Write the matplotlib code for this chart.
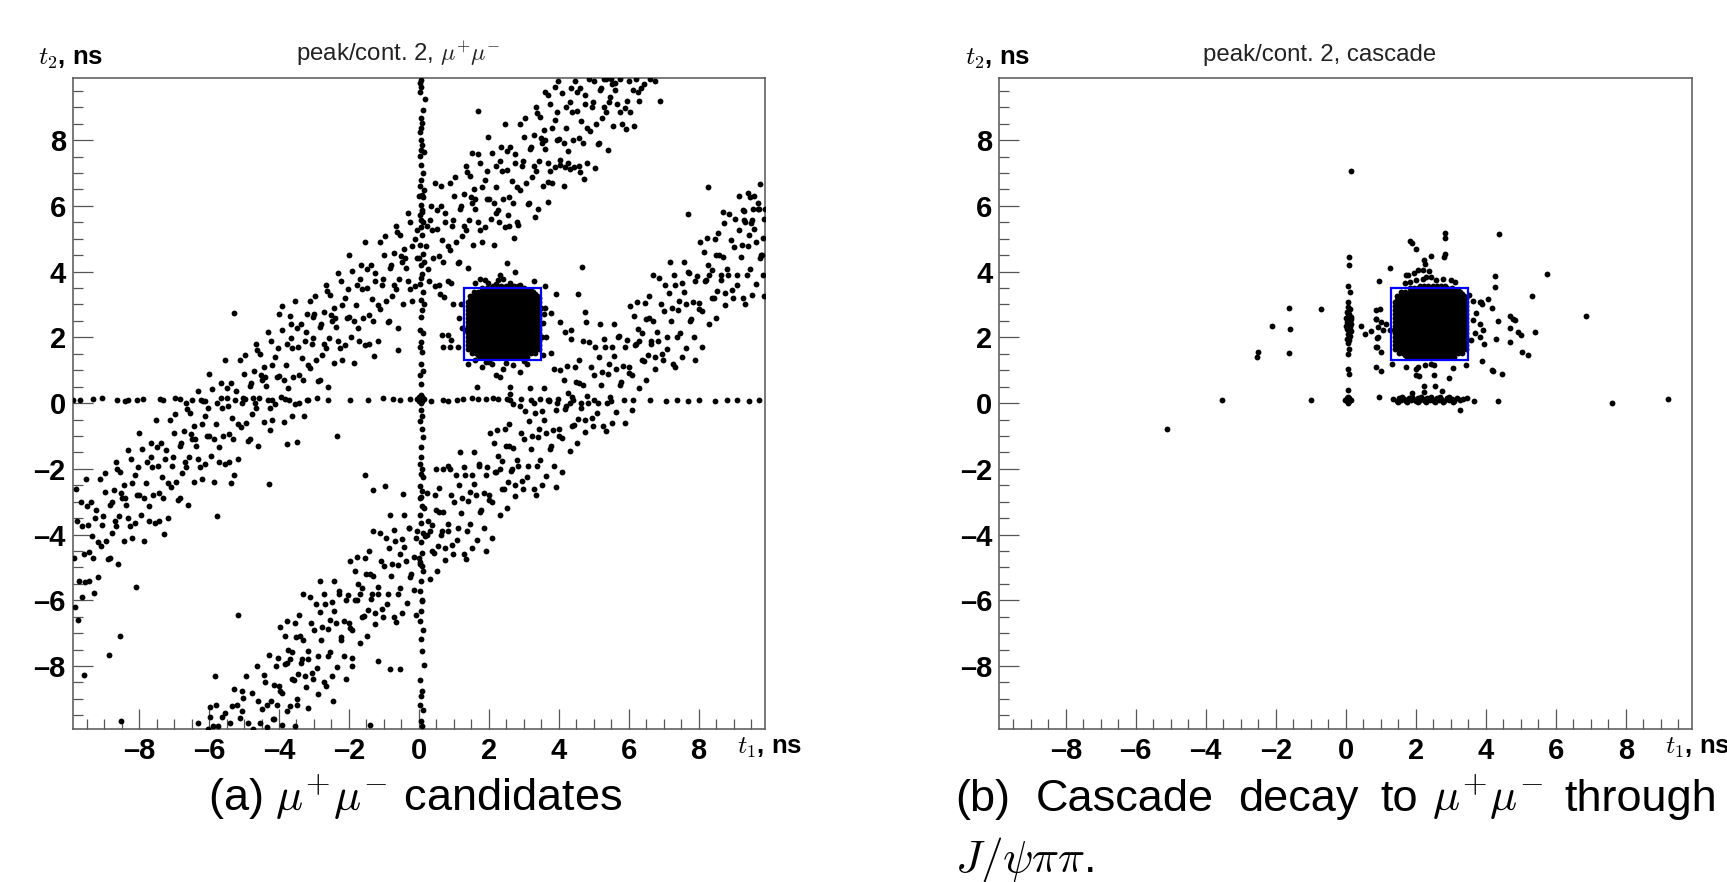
import matplotlib.pyplot as plt
from matplotlib.patches import Rectangle
from matplotlib.ticker import FixedLocator, MultipleLocator

plt.rcParams["font.family"] = ["Liberation Sans", "DejaVu Sans"]
plt.rcParams["mathtext.fontset"] = "cm"

# ---------------------------------------------------------------- data (ns)
major_ticks = [-8, -6, -4, -2, 0, 2, 4, 6, 8]
tick_labels = ["–8", "–6", "–4", "–2", "0", "2", "4", "6", "8"]
box = (1.3, 1.3, 3.5, 3.5)   # t1_min, t2_min, t1_max, t2_max

# saturated core of the peak (same look in both panels), rows of (t2, [t1 ...])
core_t1 = [1.40, 1.52, 1.64, 1.76, 1.88, 2.00, 2.12, 2.24, 2.36,
           2.48, 2.60, 2.72, 2.84, 2.96, 3.08, 3.20, 3.32, 3.44]
core_t1b = [1.46, 1.58, 1.70, 1.82, 1.94, 2.06, 2.18, 2.30, 2.42,
            2.54, 2.66, 2.78, 2.90, 3.02, 3.14, 3.26, 3.38]
core_rows = [
    (1.40, core_t1[3:15]), (1.52, core_t1[1:17]), (1.64, core_t1),
    (1.76, core_t1), (1.88, core_t1), (2.00, core_t1), (2.12, core_t1),
    (2.24, core_t1), (2.36, core_t1), (2.48, core_t1), (2.60, core_t1),
    (2.72, core_t1), (2.84, core_t1), (2.96, core_t1), (3.08, core_t1),
    (3.20, core_t1[1:]), (3.32, core_t1[2:17]), (3.44, core_t1[4:16]),
    (3.56, core_t1[6:13]),
    (1.46, core_t1b[2:14]), (1.58, core_t1b[1:16]), (1.70, core_t1b),
    (1.82, core_t1b), (1.94, core_t1b), (2.06, core_t1b), (2.18, core_t1b),
    (2.30, core_t1b), (2.42, core_t1b), (2.54, core_t1b), (2.66, core_t1b),
    (2.78, core_t1b), (2.90, core_t1b), (3.02, core_t1b), (3.14, core_t1b),
    (3.26, core_t1b), (3.38, core_t1b[1:16]), (3.50, core_t1b[3:14]),
]

# (a) mu+mu- candidates
vline_a = [
    (0.05, 9.84), (0.03, 9.74), (0.06, 9.63), (0.04, 9.48), (0.17, 9.25), (0.12, 8.92),
    (0.05, 8.67), (0.08, 8.52), (0.06, 8.37), (0.04, 8.26), (0.05, 8.01), (0.09, 7.86),
    (0.07, 7.71), (0.14, 7.63), (0.02, 7.51), (0.06, 7.25), (0.12, 7.00), (0.05, 6.79),
    (0.03, 6.59), (0.15, 6.49), (0.08, 6.33), (0.12, 6.28), (0.05, 6.03), (0.10, 5.88),
    (0.04, 5.73), (0.07, 5.57), (0.13, 5.52), (0.06, 5.37), (0.09, 5.10), (0.03, 4.82),
    (0.11, 4.55), (0.05, 4.20), (0.08, 3.92), (0.02, 3.62), (0.12, 3.38), (0.05, 3.13),
    (0.10, 2.82), (0.07, 2.62), (0.04, 2.22), (0.12, 2.12), (0.06, 1.86), (0.03, 1.71),
    (0.09, 1.55), (0.05, 1.20), (0.11, 0.99), (0.04, 0.84), (0.07, 0.59),
    (0.00, 0.05), (0.10, 0.05), (0.00, 0.18), (0.10, 0.18), (0.05, 0.12), (0.05, 0.00),
    (0.05, 0.24), (-0.05, 0.12), (0.15, 0.12),
    (0.06, -0.22), (0.10, -0.38), (0.04, -0.53), (0.08, -0.78), (0.12, -1.04), (0.05, -1.34),
    (0.07, -1.65), (0.03, -1.85), (0.10, -2.00), (0.06, -2.16), (0.13, -2.26), (0.04, -2.51),
    (0.08, -2.66), (0.05, -2.87), (0.10, -3.12), (0.03, -3.40), (0.07, -3.66), (0.12, -3.95),
    (0.05, -4.22), (0.09, -4.55), (0.02, -4.83), (0.11, -5.10), (0.06, -5.42), (0.04, -5.71),
    (0.10, -6.02), (0.07, -6.33), (0.03, -6.62), (0.12, -6.90), (0.05, -7.18), (0.08, -7.54),
    (0.14, -7.97), (0.04, -8.43), (0.10, -8.76), (0.07, -8.91), (0.03, -9.17), (0.13, -9.35),
    (0.05, -9.67), (0.08, -9.83),
]
hline_a = [
    (-9.88, 0.10), (-9.69, 0.08), (-9.31, 0.12), (-9.07, 0.15), (-8.64, 0.10), (-8.40, 0.07),
    (-8.31, 0.10), (-8.07, 0.09), (-7.88, 0.11), (-7.40, 0.13), (-7.31, 0.10), (-6.97, 0.14),
    (-6.83, 0.13), (-6.50, 0.09), (-6.16, 0.06), (-6.11, 0.07), (-5.50, 0.15), (-4.97, 0.12),
    (-4.73, 0.14), (-4.20, 0.10), (-3.83, 0.12), (-3.21, 0.09), (-2.92, 0.14), (-2.59, 0.08),
    (-1.97, 0.10), (-1.45, 0.08), (-1.02, 0.16), (-0.73, 0.13), (-0.54, 0.08), (-0.26, 0.13),
    (0.36, 0.05), (0.69, 0.08), (0.84, 0.05), (1.08, 0.09), (1.27, 0.12), (1.51, 0.17),
    (1.69, 0.12), (1.93, 0.12), (2.12, 0.17), (2.27, 0.12), (2.51, 0.12), (2.60, 0.28),
    (2.60, 0.10), (2.93, 0.12), (3.22, 0.09), (3.46, 0.12), (3.69, 0.09), (3.98, 0.12),
    (4.40, 0.08), (5.02, 0.10), (5.49, 0.06), (6.12, 0.10), (6.60, 0.08), (7.07, 0.05),
    (7.38, 0.10), (7.70, 0.07), (8.00, 0.09), (8.48, 0.05), (8.80, 0.10), (9.11, 0.08),
    (9.43, 0.06), (9.74, 0.09),
]
band_hi_a = [
    (-9.86, -4.7), (-9.78, -3.6), (-9.72, -5.4), (-9.65, -3.0), (-9.59, -4.6), (-9.53, -2.3),
    (-9.47, -3.7), (-9.42, -5.4), (-9.84, -6.2), (-9.75, -6.6), (-9.62, -5.9), (-9.80, -2.6),
    (-9.38, -3.0), (-9.31, -4.7), (-9.25, -3.5), (-9.18, -5.3), (-9.12, -2.3), (-9.06, -3.7),
    (-8.99, -2.7), (-8.94, -4.2), (-8.84, -4.7), (-8.79, -3.0), (-8.70, -3.6), (-8.66, -1.8),
    (-8.60, -4.9), (-8.54, -2.1), (-8.48, -2.9), (-8.43, -2.5), (-8.39, -2.9), (-8.32, -3.5),
    (-8.24, -1.7), (-8.19, -4.1), (-8.11, -2.2), (-8.05, -2.8), (-8.01, -0.9), (-7.95, -3.4),
    (-7.86, -2.9), (-7.78, -1.8), (-7.72, -3.6), (-7.65, -1.2), (-7.59, -2.8), (-7.53, -0.5),
    (-7.47, -1.9), (-7.42, -3.6), (-7.38, -1.2), (-7.31, -2.9), (-7.25, -1.7), (-7.18, -3.5),
    (-7.12, -0.5), (-7.06, -1.9), (-6.99, -0.9), (-6.94, -2.4), (-6.84, -2.9), (-6.79, -1.2),
    (-6.70, -1.8), (-6.66, 0.0), (-6.60, -3.1), (-6.54, -0.3), (-6.48, -1.1), (-6.43, -0.7),
    (-6.39, -1.1), (-6.32, -1.7), (-6.24, 0.1), (-6.19, -2.3), (-6.11, -0.4), (-6.05, -1.0),
    (-6.01, 0.9), (-5.95, -1.6), (-5.86, -1.1), (-5.78, 0.0), (-5.72, -1.8), (-5.65, 0.6),
    (-5.59, -1.0), (-5.53, 1.3), (-5.47, -0.1), (-5.42, -1.8), (-5.38, 0.6), (-5.31, -1.1),
    (-5.25, 0.1), (-5.18, -1.7), (-5.12, 1.3), (-5.06, 0.0), (-4.99, 0.9), (-4.94, -0.6),
    (-4.84, -1.1), (-4.79, 0.6), (-4.70, 0.0), (-4.66, 1.8), (-4.60, -1.3), (-4.54, 1.5),
    (-4.48, 0.7), (-4.43, 1.1), (-4.39, 0.8), (-4.32, 0.1), (-4.24, 1.9), (-4.19, -0.5),
    (-4.11, 1.4), (-4.05, 0.8), (-4.01, 2.7), (-3.95, 0.2), (-3.86, 0.7), (-3.78, 1.8),
    (-3.72, 0.1), (-3.65, 2.4), (-3.59, 0.8), (-3.53, 3.1), (-3.47, 1.7), (-3.42, 0.0),
    (-3.90, 2.95), (-3.69, 2.64), (-3.21, 2.72), (-3.02, 2.62),
    (-3.38, 2.4), (-3.31, 0.7), (-3.25, 1.9), (-3.18, 0.1), (-3.12, 3.1), (-3.06, 1.8),
    (-2.99, 2.7), (-2.94, 1.3), (-2.84, 0.7), (-2.79, 2.4), (-2.70, 1.8), (-2.66, 3.6),
    (-2.60, 0.5), (-2.54, 3.3), (-2.48, 2.5), (-2.43, 2.9), (-2.39, 2.6), (-2.32, 1.9),
    (-2.24, 3.7), (-2.19, 1.3), (-2.11, 3.2), (-2.05, 2.6), (-2.01, 4.5), (-1.95, 2.0),
    (-1.86, 2.5), (-1.78, 3.6), (-1.72, 1.9), (-1.65, 4.2), (-1.59, 2.6), (-1.53, 4.9),
    (-1.47, 3.5), (-1.42, 1.8), (-1.38, 4.2), (-1.31, 2.5), (-1.25, 3.7), (-1.18, 1.9),
    (-1.12, 4.9), (-1.06, 3.6), (-0.99, 4.5), (-0.94, 3.1), (-0.84, 2.5), (-0.79, 4.2),
    (-0.70, 3.6), (-0.66, 5.4), (-0.60, 2.3), (-0.54, 5.1), (-0.48, 4.3), (-0.43, 4.7),
    (-0.39, 4.4), (-0.32, 3.7), (-0.24, 5.5), (-0.19, 3.1), (-0.11, 5.0), (-0.05, 4.4),
    (-0.01, 6.3), (0.05, 3.8), (0.14, 4.3), (0.22, 5.4), (0.28, 3.7), (0.35, 6.0),
    (0.41, 4.4), (0.47, 6.7), (0.53, 5.3), (0.58, 3.6), (0.62, 6.0), (0.69, 4.3),
    (0.75, 5.5), (0.82, 3.7), (0.88, 6.7), (0.94, 5.4), (1.01, 6.3), (1.06, 4.9),
    (0.62, 6.62), (1.16, 4.3), (1.21, 6.0), (1.30, 5.4), (1.34, 7.2), (1.40, 4.1),
    (1.46, 6.9), (1.52, 6.1), (1.57, 6.5), (1.53, 7.6), (1.69, 8.89), (1.61, 6.2),
    (1.68, 5.5), (1.76, 7.3), (1.81, 4.9), (1.89, 6.8), (1.95, 6.2), (1.99, 8.1),
    (2.05, 5.6), (2.14, 6.1), (2.22, 7.2), (2.28, 5.5), (2.35, 7.8), (2.41, 6.2),
    (2.47, 8.5), (2.53, 7.1), (2.58, 5.4), (2.20, 5.77), (2.55, 5.72), (2.84, 5.42),
    (2.62, 7.8), (2.69, 6.1), (2.75, 7.3), (2.82, 5.5), (2.88, 8.5), (2.94, 7.2),
    (3.01, 8.1), (3.06, 6.7), (3.16, 6.1), (3.21, 7.8), (3.30, 7.2), (3.34, 9.0),
    (3.40, 5.9), (3.46, 8.7), (3.52, 7.9), (3.57, 8.3), (3.33, 5.67), (3.61, 8.0),
    (3.68, 7.3), (3.76, 9.1), (3.81, 6.7), (3.89, 8.6), (3.95, 8.0), (3.99, 9.8),
    (4.05, 7.4), (3.68, 6.74), (3.69, 6.13), (3.60, 9.46), (3.89, 9.61), (4.14, 7.9),
    (4.22, 9.0), (4.28, 7.3), (4.35, 9.6), (4.41, 8.0), (4.47, 9.8), (4.53, 8.9),
    (4.58, 7.2), (4.03, 7.25), (4.17, 7.17), (4.31, 7.11), (4.60, 7.04), (5.03, 7.16),
    (4.62, 9.6), (4.69, 7.9), (4.75, 9.1), (4.82, 7.3), (4.88, 9.85), (4.94, 9.0),
    (5.01, 9.8), (5.06, 8.5), (5.16, 7.9), (5.21, 9.6), (5.30, 9.0), (5.40, 7.7),
    (5.52, 9.7), (5.34, 9.85), (5.46, 9.3), (5.61, 9.75), (5.68, 9.1), (5.81, 8.5),
    (5.95, 9.2), (6.05, 8.85), (5.76, 9.85), (6.12, 9.53), (6.31, 9.18), (6.74, 9.79),
    (6.90, 9.20), (6.45, 9.70), (6.20, 9.85), (5.93, 8.34), (6.60, 9.85),
    # second sweep along the band
    (-9.62, -3.74), (-9.55, -5.44), (-9.48, -3.14), (-9.42, -4.54), (-9.35, -4.04), (-9.29, -5.79),
    (-9.24, -3.24), (-9.18, -4.24), (-9.10, -4.34), (-9.03, -3.44), (-8.97, -2.14), (-8.89, -4.74),
    (-8.83, -3.09), (-8.77, -3.94), (-8.71, -2.64), (-8.66, -3.74), (-8.63, -1.99), (-8.57, -3.44),
    (-8.51, -2.74), (-8.44, -4.19), (-8.38, -3.09), (-8.32, -1.44), (-8.25, -3.74), (-8.19, -2.44),
    (-8.11, -3.64), (-8.04, -1.94), (-7.99, -2.79), (-7.91, -1.39), (-7.86, -4.19), (-7.80, -2.44),
    (-7.73, -3.14), (-7.67, -1.64), (-7.62, -1.94), (-7.55, -3.64), (-7.48, -1.34), (-7.42, -2.74),
    (-7.35, -2.24), (-7.29, -3.99), (-7.24, -1.44), (-7.18, -2.44), (-7.10, -2.54), (-7.03, -1.64),
    (-6.97, -0.34), (-6.89, -2.94), (-6.83, -1.29), (-6.77, -2.14), (-6.71, -0.84), (-6.66, -1.94),
    (-6.63, -0.19), (-6.57, -1.64), (-6.51, -0.94), (-6.44, -2.39), (-6.38, -1.29), (-6.32, 0.37),
    (-6.25, -1.94), (-6.19, -0.64), (-6.11, -1.84), (-6.04, -0.14), (-5.99, -0.99), (-5.91, 0.42),
    (-5.86, -2.39), (-5.80, -0.64), (-5.73, -1.34), (-5.67, 0.17), (-5.62, -0.14), (-5.55, -1.84),
    (-5.48, 0.47), (-5.42, -0.94), (-5.35, -0.44), (-5.29, -2.19), (-5.24, 0.37), (-5.18, -0.64),
    (-5.10, -0.74), (-5.03, 0.17), (-4.97, 1.47), (-4.89, -1.14), (-4.83, 0.52), (-4.77, -0.34),
    (-4.71, 0.97), (-4.66, -0.14), (-4.63, 1.62), (-4.57, 0.17), (-4.51, 0.87), (-4.44, -0.59),
    (-4.38, 0.52), (-4.32, 2.17), (-4.25, -0.14), (-4.19, 1.17), (-4.11, -0.04), (-4.04, 1.67),
    (-3.99, 0.82), (-3.91, 2.22), (-3.86, -0.59), (-3.80, 1.17), (-3.73, 0.47), (-3.67, 1.97),
    (-3.62, 1.67), (-3.55, -0.04), (-3.48, 2.27), (-3.42, 0.87), (-3.35, 1.37), (-3.29, -0.39),
    (-3.24, 2.17), (-3.18, 1.17), (-3.10, 1.07), (-3.03, 1.97), (-2.97, 3.27), (-2.89, 0.67),
    (-2.83, 2.32), (-2.77, 1.47), (-2.71, 2.77), (-2.66, 1.67), (-2.63, 3.42), (-2.57, 1.97),
    (-2.51, 2.67), (-2.44, 1.22), (-2.38, 2.32), (-2.32, 3.97), (-2.25, 1.67), (-2.19, 2.97),
    (-2.11, 1.77), (-2.04, 3.47), (-1.99, 2.62), (-1.91, 4.02), (-1.86, 1.22), (-1.80, 2.97),
    (-1.73, 2.27), (-1.67, 3.77), (-1.62, 3.47), (-1.55, 1.77), (-1.48, 4.07), (-1.42, 2.67),
    (-1.35, 3.17), (-1.29, 1.42), (-1.24, 3.97), (-1.18, 2.97), (-1.10, 2.87), (-1.03, 3.77),
    (-0.97, 5.07), (-0.89, 2.47), (-0.83, 4.12), (-0.77, 3.27), (-0.71, 4.57), (-0.66, 3.47),
    (-0.63, 5.22), (-0.57, 3.77), (-0.51, 4.47), (-0.44, 3.02), (-0.38, 4.12), (-0.32, 5.77),
    (-0.25, 3.47), (-0.19, 4.77), (-0.11, 3.57), (-0.04, 5.27), (0.01, 4.42), (0.09, 5.82),
    (0.14, 3.02), (0.20, 4.77), (0.27, 4.07), (0.33, 5.57), (0.38, 5.27), (0.45, 3.57),
    (0.52, 5.87), (0.58, 4.47), (0.65, 4.97), (0.71, 3.22), (0.76, 5.77), (0.82, 4.77),
    (0.90, 4.67), (0.97, 5.57), (1.03, 6.87), (1.11, 4.27), (1.17, 5.92), (1.23, 5.07),
    (1.29, 6.37), (1.34, 5.27), (1.37, 7.02), (1.43, 5.57), (1.49, 6.27), (1.56, 4.82),
    (1.62, 5.92), (1.68, 7.57), (1.75, 5.27), (1.81, 6.57), (1.89, 5.37), (1.96, 7.07),
    (2.01, 6.22), (2.09, 7.62), (2.14, 4.82), (2.20, 6.57), (2.27, 5.87), (2.33, 7.37),
    (2.38, 7.07), (2.45, 5.37), (2.52, 7.67), (2.58, 6.27), (2.65, 6.77), (2.71, 5.02),
    (2.76, 7.57), (2.82, 6.57), (2.90, 6.47), (2.97, 7.37), (3.03, 8.67), (3.11, 6.07),
    (3.17, 7.72), (3.23, 6.87), (3.29, 8.17), (3.34, 7.07), (3.37, 8.82), (3.43, 7.37),
    (3.49, 8.07), (3.56, 6.62), (3.62, 7.72), (3.68, 9.37), (3.75, 7.07), (3.81, 8.37),
    (3.89, 7.17), (3.96, 8.87), (4.01, 8.02), (4.09, 9.42), (4.14, 6.62), (4.20, 8.37),
    (4.27, 7.67), (4.33, 9.17), (4.38, 8.87), (4.45, 7.17), (4.52, 9.47), (4.58, 8.07),
    (4.65, 8.57), (4.71, 6.82), (4.76, 9.37), (4.82, 8.37), (4.90, 8.27), (4.97, 9.17),
    (5.11, 7.87), (5.17, 9.52), (5.23, 8.67), (5.29, 9.85), (5.34, 8.87), (5.43, 9.17),
    (5.49, 9.85), (5.56, 8.42), (5.62, 9.52), (5.75, 8.87), (5.89, 8.97), (6.01, 9.80),
    (6.14, 8.42), (6.27, 9.47), (6.35, 9.60),
]
band_lo_a = [
    (-6.31, -9.74), (-6.02, -9.90), (-5.97, -9.55), (-5.88, -9.83), (-5.75, -9.83), (-5.97, -9.25),
    (-5.81, -9.17), (-5.64, -9.55), (-5.54, -9.42), (-5.40, -9.73), (-5.35, -9.22), (-5.21, -9.17),
    (-5.11, -9.57), (-5.07, -9.37), (-5.02, -8.96), (-5.07, -8.76), (-4.88, -9.73), (-4.78, -8.81),
    (-4.73, -9.93), (-4.59, -9.06), (-4.54, -9.73), (-4.49, -9.32), (-4.35, -9.17), (-4.16, -9.62),
    (-4.07, -9.17), (-3.78, -9.37), (-3.54, -9.83), (-3.49, -9.17), (-3.16, -9.27), (-2.88, -8.86),
    (-2.45, -9.06), (-5.83, -8.3), (-5.30, -8.7), (-4.95, -8.3), (-4.62, -8.0), (-4.40, -8.5),
    (-4.14, -9.6), (-4.09, -8.0), (-4.00, -8.6), (-3.96, -6.8), (-3.90, -9.8), (-3.84, -7.1),
    (-3.78, -7.9), (-3.73, -7.5), (-3.69, -7.8), (-3.62, -8.4), (-3.54, -6.7), (-3.49, -9.0),
    (-3.41, -7.1), (-3.35, -7.8), (-3.31, -5.8), (-3.25, -8.3), (-3.16, -7.8), (-3.08, -6.7),
    (-3.02, -8.4), (-2.95, -6.1), (-2.89, -7.7), (-2.83, -5.4), (-2.77, -6.8), (-2.72, -8.5),
    (-2.68, -6.1), (-2.61, -7.7), (-2.55, -6.6), (-2.48, -8.3), (-2.42, -5.4), (-2.36, -6.7),
    (-2.29, -5.8), (-2.24, -7.2), (-2.14, -7.7), (-2.09, -6.0), (-2.00, -6.7), (-1.96, -4.8),
    (-1.90, -8.0), (-1.84, -5.1), (-1.78, -6.0), (-1.73, -5.5), (-1.69, -5.8), (-1.62, -6.5),
    (-1.54, -4.7), (-1.49, -7.1), (-1.41, -5.2), (-1.35, -5.8), (-1.31, -3.9), (-1.25, -6.4),
    (-1.16, -5.8), (-1.08, -4.8), (-1.02, -6.5), (-0.95, -4.1), (-0.89, -5.8), (-0.83, -3.4),
    (-0.77, -4.9), (-0.72, -6.5), (-0.68, -4.2), (-0.61, -5.8), (-0.55, -4.6), (-0.48, -6.4),
    (-0.42, -3.4), (-0.36, -4.8), (-0.29, -3.8), (-0.24, -5.3), (-0.14, -5.7), (-0.09, -4.1),
    (0.00, -4.7), (0.04, -2.9), (0.10, -6.0), (0.16, -3.2), (0.22, -4.0), (0.27, -3.6),
    (0.31, -3.9), (0.38, -4.5), (0.46, -2.8), (0.51, -5.1), (0.59, -3.3), (0.65, -3.9),
    (0.69, -2.0), (0.75, -4.4), (0.84, -3.9), (0.92, -2.8), (0.98, -4.6), (1.05, -2.2),
    (1.11, -3.8), (1.17, -1.5), (1.23, -2.9), (1.28, -4.6), (1.32, -2.2), (1.39, -3.9),
    (1.45, -2.7), (1.52, -4.4), (1.58, -1.5), (1.64, -2.8), (1.71, -1.9), (1.76, -3.3),
    (1.86, -3.8), (1.91, -2.2), (2.00, -2.8), (2.04, -0.9), (2.10, -4.1), (2.16, -1.2),
    (2.22, -2.1), (2.27, -1.6), (2.31, -2.0), (2.38, -2.6), (2.46, -0.8), (2.51, -3.2),
    (2.59, -1.3), (2.65, -2.0), (2.69, -0.02), (2.75, -2.5), (2.84, -1.9), (2.92, -0.9),
    (2.98, -2.6), (3.05, -0.25), (3.11, -1.9), (3.17, 0.45), (3.23, -1.0), (3.28, -2.6),
    (3.32, -0.3), (3.39, -1.9), (3.45, -0.8), (3.52, -2.5), (3.58, 0.45), (3.64, -0.9),
    (3.71, 0.07), (3.76, -1.4), (3.86, -1.9), (3.91, -0.2), (4.00, -0.8), (4.04, 1.0),
    (4.10, -2.1), (4.16, 0.7), (4.22, -0.1), (4.27, 0.3), (4.31, 0.0), (4.38, -0.7),
    (4.46, 1.1), (4.51, -1.2), (4.59, 0.6), (4.65, 0.0), (4.69, 1.9), (4.75, -0.5),
    (4.84, 0.0), (4.92, 1.1), (4.98, -0.7), (5.05, 1.7), (5.11, 0.0), (5.17, 2.4),
    (5.23, 0.95), (5.28, -0.7), (5.32, 1.7), (5.39, 0.0), (5.45, 1.2), (5.52, -0.6),
    (5.58, 2.4), (5.64, 1.05), (5.71, 2.0), (5.76, 0.55), (5.86, 0.1), (5.91, 1.7),
    (6.00, 1.1), (6.04, 2.95), (6.10, -0.2), (6.16, 2.65), (6.22, 1.8), (6.27, 2.25),
    (6.31, 1.9), (6.38, 1.3), (6.46, 3.05), (6.51, 0.7), (6.59, 2.6), (6.65, 1.9),
    (6.69, 3.9), (6.75, 1.4), (6.84, 1.9), (6.92, 3.0), (6.98, 1.3), (7.05, 3.6),
    (7.11, 2.0), (7.17, 4.3), (7.23, 2.9), (7.28, 1.2), (7.32, 3.6), (7.39, 2.0),
    (7.45, 3.1), (7.52, 1.4), (7.58, 4.3), (7.64, 3.0), (7.71, 4.0), (7.76, 2.5),
    (7.86, 2.0), (7.91, 3.7), (8.00, 3.05), (8.04, 4.9), (8.10, 1.7), (8.16, 4.6),
    (8.22, 3.75), (8.27, 4.2), (8.31, 3.9), (8.38, 3.2), (8.46, 5.0), (8.51, 2.6),
    (8.59, 4.5), (8.65, 3.9), (8.69, 5.8), (8.75, 3.35), (8.84, 3.9), (8.92, 4.95),
    (8.98, 3.2), (9.05, 5.6), (9.11, 3.9), (9.17, 6.3), (9.23, 4.8), (9.28, 3.2),
    (9.32, 5.5), (9.39, 3.9), (9.45, 5.1), (9.52, 3.3), (9.58, 6.3), (9.64, 4.9),
    (9.71, 5.9), (9.76, 4.4), (9.82, 4.5), (9.86, 5.6), (9.84, 3.9), (9.77, 6.66),
    (9.41, 6.38), (9.46, 6.28), (9.27, 5.88), (9.55, 5.92), (9.69, 6.08), (9.89, 5.90),
    (8.74, 5.49), (9.50, 5.49), (9.31, 5.57),
    # second sweep along the band
    (-4.42, -8.27), (-4.35, -9.85), (-4.28, -7.67), (-4.22, -9.07), (-4.15, -8.57), (-4.04, -7.77),
    (-3.98, -8.77), (-3.90, -8.83), (-3.83, -7.93), (-3.77, -6.63), (-3.69, -9.23), (-3.63, -7.58),
    (-3.57, -8.43), (-3.51, -7.13), (-3.46, -8.23), (-3.43, -6.45), (-3.37, -7.90), (-3.31, -7.20),
    (-3.24, -8.65), (-3.18, -7.55), (-3.12, -5.90), (-3.05, -8.20), (-2.99, -6.90), (-2.91, -8.06),
    (-2.84, -6.36), (-2.79, -7.21), (-2.71, -5.81), (-2.66, -8.61), (-2.60, -6.86), (-2.53, -7.56),
    (-2.47, -6.06), (-2.42, -6.33), (-2.35, -8.03), (-2.28, -5.73), (-2.22, -7.13), (-2.15, -6.63),
    (-2.09, -8.38), (-2.04, -5.83), (-1.98, -6.83), (-1.90, -6.89), (-1.83, -5.99), (-1.77, -4.69),
    (-1.69, -7.29), (-1.63, -5.64), (-1.57, -6.49), (-1.51, -5.19), (-1.46, -6.29), (-1.43, -4.51),
    (-1.37, -5.96), (-1.31, -5.26), (-1.24, -6.71), (-1.18, -5.61), (-1.12, -3.96), (-1.05, -6.26),
    (-0.99, -4.96), (-0.91, -6.12), (-0.84, -4.42), (-0.79, -5.27), (-0.71, -3.87), (-0.66, -6.67),
    (-0.60, -4.92), (-0.53, -5.62), (-0.47, -4.12), (-0.42, -4.39), (-0.35, -6.09), (-0.28, -3.79),
    (-0.22, -5.19), (-0.15, -4.69), (-0.09, -6.44), (-0.04, -3.89), (0.02, -4.89), (0.10, -4.95),
    (0.17, -4.05), (0.23, -2.75), (0.31, -5.35), (0.37, -3.70), (0.43, -4.55), (0.49, -3.25),
    (0.54, -4.35), (0.57, -2.57), (0.63, -4.02), (0.69, -3.32), (0.76, -4.77), (0.82, -3.67),
    (0.88, -2.02), (0.95, -4.32), (1.01, -3.02), (1.09, -4.18), (1.16, -2.48), (1.21, -3.33),
    (1.29, -1.93), (1.34, -4.73), (1.40, -2.98), (1.47, -3.68), (1.53, -2.18), (1.58, -2.45),
    (1.65, -4.15), (1.72, -1.85), (1.78, -3.25), (1.85, -2.75), (1.91, -4.50), (1.96, -1.95),
    (2.02, -2.95), (2.10, -3.01), (2.17, -2.11), (2.23, -0.81), (2.31, -3.41), (2.37, -1.76),
    (2.43, -2.61), (2.49, -1.31), (2.54, -2.41), (2.57, -0.63), (2.63, -2.08), (2.69, -1.38),
    (2.76, -2.83), (2.82, -1.73), (2.88, -0.08), (2.95, -2.38), (3.01, -1.08), (3.09, -2.24),
    (3.16, -0.54), (3.21, -1.39), (3.29, 0.01), (3.34, -2.79), (3.40, -1.04), (3.47, -1.74),
    (3.53, -0.24), (3.58, -0.51), (3.65, -2.21), (3.72, 0.09), (3.78, -1.31), (3.85, -0.81),
    (3.91, -2.56), (3.96, -0.01), (4.02, -1.01), (4.10, -1.07), (4.17, -0.17), (4.23, 1.13),
    (4.31, -1.47), (4.37, 0.18), (4.43, -0.67), (4.49, 0.63), (4.54, -0.47), (4.57, 1.31),
    (4.63, -0.14), (4.69, 0.56), (4.76, -0.89), (4.82, 0.21), (4.88, 1.86), (4.95, -0.44),
    (5.01, 0.86), (5.09, -0.30), (5.16, 1.40), (5.21, 0.55), (5.29, 1.95), (5.34, -0.85),
    (5.40, 0.90), (5.47, 0.20), (5.53, 1.70), (5.58, 1.43), (5.65, -0.27), (5.72, 2.03),
    (5.78, 0.63), (5.85, 1.13), (5.91, -0.62), (5.96, 1.93), (6.02, 0.93), (6.10, 0.87),
    (6.17, 1.77), (6.23, 3.07), (6.31, 0.47), (6.37, 2.12), (6.43, 1.27), (6.49, 2.57),
    (6.54, 1.47), (6.57, 3.25), (6.63, 1.80), (6.69, 2.50), (6.76, 1.05), (6.82, 2.15),
    (6.88, 3.80), (6.95, 1.50), (7.01, 2.80), (7.09, 1.64), (7.16, 3.34), (7.21, 2.49),
    (7.29, 3.89), (7.34, 1.09), (7.40, 2.84), (7.47, 2.14), (7.53, 3.64), (7.58, 3.37),
    (7.65, 1.67), (7.72, 3.97), (7.78, 2.57), (7.85, 3.07), (7.91, 1.32), (7.96, 3.87),
    (8.02, 2.87), (8.10, 2.81), (8.17, 3.71), (8.23, 5.01), (8.31, 2.41), (8.37, 4.06),
    (8.43, 3.21), (8.49, 4.51), (8.54, 3.41), (8.57, 5.19), (8.63, 3.74), (8.69, 4.44),
    (8.76, 2.99), (8.82, 4.09), (8.88, 5.74), (8.95, 3.44), (9.01, 4.74), (9.09, 3.58),
    (9.16, 5.28), (9.21, 4.43), (9.29, 5.83), (9.34, 3.03), (9.40, 4.78), (9.47, 4.08),
    (9.53, 5.58), (9.58, 5.31), (9.65, 3.61), (9.72, 5.91), (9.78, 4.51), (9.85, 5.01),
    (9.88, 3.26),
]
scatter_a = [
    (4.68, 4.13), (4.55, 3.33), (3.93, 3.33), (3.79, 2.73), (4.03, 2.47), (4.17, 2.17),
    (4.36, 2.22), (4.36, 1.96), (3.79, 1.51), (3.86, 1.05), (4.74, 2.77), (4.79, 2.47),
    (2.51, 4.25), (2.74, 3.99), (2.31, 3.89), (2.27, 3.74), (2.41, 3.79), (1.74, 3.79),
    (1.89, 3.74), (1.98, 3.64), (0.98, 3.03), (0.65, 2.06), (0.84, 2.06), (0.93, 1.91),
    (0.69, 1.71), (0.89, 1.71), (1.12, 1.71), (1.22, 2.27), (1.31, 2.22), (2.08, 1.20),
    (2.31, 0.79), (2.41, 1.05), (2.22, 0.84), (1.93, 1.25), (1.65, 0.49), (2.60, 0.49),
    (0.60, 3.33), (0.93, 3.64), (1.15, 2.60), (1.20, 3.00), (3.60, 2.90), (3.65, 2.00),
    (3.55, 1.45), (3.62, 3.55), (1.40, 1.20), (2.70, 1.15), (3.10, 1.20), (1.60, 3.65),
    (3.30, 3.70), (1.80, 1.10), (2.90, 0.95), (3.52, 2.00), (3.55, 2.45), (3.50, 2.90),
    (3.58, 2.70), (2.20, 3.62), (2.60, 3.65), (2.90, 3.60), (1.60, 1.30), (2.00, 1.25),
    (2.50, 1.22), (3.00, 1.28),
    (8.27, 6.57), (7.71, 5.74), (-8.85, -7.66), (-8.55, -7.10), (-9.57, -8.27), (-8.10, -5.60),
    (-5.77, -3.44), (-5.28, 2.74), (-5.17, -6.46), (-4.30, -2.46), (-5.38, -2.44), (-2.35, -0.99),
    (-1.54, -2.20), (-1.31, -2.64), (-0.97, -2.51), (-0.45, -2.76), (-3.78, -1.24), (-3.49, -1.19),
    (-4.26, -0.83), (-3.62, -0.38), (0.50, -2.00), (0.84, -1.90), (-0.59, 1.63), (-1.16, -7.86),
    (-0.82, -8.10), (-0.54, -8.10), (-1.90, -7.76), (-1.40, -9.78), (-8.52, -9.67),
]

# (b) cascade decay
vline_b = [
    (0.08, 4.45), (0.10, 4.19), (0.06, 3.57), (0.12, 3.37), (0.05, 3.08), (0.05, 2.93),
    (0.12, 2.85), (0.02, 2.78), (0.10, 2.70), (0.06, 2.62), (0.14, 2.55), (0.03, 2.48),
    (0.09, 2.40), (0.12, 2.32), (0.04, 2.25), (0.10, 2.18), (0.07, 2.10), (0.13, 2.03),
    (0.02, 1.96), (0.09, 1.91), (0.15, 2.62), (0.00, 2.35), (0.16, 2.20), (0.05, 2.72),
    (0.11, 2.50), (0.01, 2.58), (0.15, 2.42), (0.08, 2.00), (0.05, 1.82), (0.10, 1.64),
    (0.07, 1.49), (0.05, 1.05), (0.10, 0.88), (0.07, 0.41),
    (0.02, 0.05), (0.10, 0.05), (0.02, 0.15), (0.10, 0.15), (0.06, 0.10), (0.06, 0.00),
    (0.06, 0.20), (-0.02, 0.10), (0.14, 0.10),
]
hline_b = [
    (1.36, 0.12), (1.45, 0.06), (1.52, 0.15), (1.58, 0.08), (1.66, 0.13), (1.72, 0.05),
    (1.80, 0.16), (1.86, 0.09), (1.93, 0.12), (2.00, 0.06), (2.06, 0.17), (2.12, 0.10),
    (2.20, 0.13), (2.26, 0.05), (2.33, 0.15), (2.40, 0.09), (2.46, 0.12), (2.52, 0.06),
    (2.60, 0.16), (2.66, 0.10), (2.73, 0.13), (2.80, 0.05), (2.88, 0.15), (2.95, 0.09),
    (3.02, 0.12), (3.10, 0.06), (3.18, 0.14), (3.26, 0.09), (3.34, 0.12), (1.50, 0.02),
    (1.75, 0.02), (2.05, 0.02), (2.30, 0.02), (2.55, 0.02), (2.78, 0.02), (3.05, 0.02),
    (1.60, 0.20), (1.90, 0.20), (2.15, 0.20), (2.42, 0.20), (2.70, 0.20), (2.95, 0.20),
    (3.45, 0.16), (3.66, 0.05), (4.34, 0.05), (3.26, -0.20), (0.94, 0.20), (-0.99, 0.09),
    (-3.54, 0.09), (7.60, 0.01), (9.20, 0.12),
]
scatter_b = [
    (0.14, 7.07), (-5.11, -0.79), (-2.54, 1.39), (-2.50, 1.55), (-2.10, 2.36), (-1.61, 2.89),
    (-1.59, 2.26), (-1.63, 1.51), (-0.71, 2.85), (0.44, 2.36), (0.55, 2.10), (0.72, 2.20),
    (0.87, 2.57), (0.88, 1.99), (0.89, 1.71), (0.85, 1.10), (1.01, 0.98), (0.96, 3.71),
    (1.25, 4.12), (0.98, 2.85), (1.83, 4.94), (1.90, 4.86), (2.01, 4.68), (2.82, 5.17),
    (2.84, 5.02), (2.44, 4.47), (2.23, 4.36), (2.25, 4.24), (2.82, 4.54), (2.80, 4.43),
    (4.39, 5.13), (1.77, 3.91), (1.94, 3.97), (2.06, 4.04), (2.20, 4.06), (2.39, 4.02),
    (4.27, 3.88), (4.27, 3.52), (5.75, 3.93), (5.33, 3.27), (4.06, 3.16), (3.85, 3.09),
    (3.89, 3.00), (4.18, 2.89), (4.36, 2.49), (4.70, 2.66), (4.77, 2.56), (4.83, 2.54),
    (4.70, 2.28), (4.92, 2.17), (5.00, 2.07), (5.40, 2.16), (4.30, 1.95), (4.70, 1.85),
    (5.04, 1.55), (5.21, 1.47), (3.90, 1.27), (4.17, 1.02), (4.20, 0.97), (4.46, 0.90),
    (6.85, 2.66), (1.33, 1.18), (1.73, 1.10), (2.01, 1.05), (2.06, 1.10), (2.25, 1.15),
    (2.44, 1.20), (2.53, 1.15), (3.06, 1.07), (3.44, 1.15), (2.01, 0.86), (2.10, 0.81),
    (2.53, 0.84), (2.96, 0.76), (2.23, 0.52), (2.56, 0.53), (1.90, 0.32), (2.23, 0.33),
    (2.75, 0.36), (1.68, 3.64), (1.82, 3.69), (2.01, 3.74), (2.20, 3.79), (2.44, 3.84),
    (2.58, 3.76), (2.77, 3.77), (3.01, 3.74), (3.11, 3.69), (1.73, 3.89), (2.29, 3.84),
    (3.53, 3.28), (3.63, 3.12), (3.82, 3.08), (3.73, 2.73), (3.63, 2.52), (3.82, 2.42),
    (3.91, 2.22), (3.82, 2.01), (3.96, 1.81), (3.58, 1.91), (3.68, 2.12), (0.87, 2.83),
    (0.87, 2.57), (1.01, 2.47), (0.91, 2.32), (1.06, 2.22), (0.91, 2.01), (0.87, 1.71),
    (1.01, 1.55), (1.25, 2.22), (1.15, 2.42),
]

# ---------------------------------------------------------------- figure
W, H = 1727, 882
fig = plt.figure(figsize=(W / 100, H / 100), dpi=100)


def axes_px(x0, x1, y0, y1):
    return fig.add_axes([x0 / W, 1 - y1 / H, (x1 - x0) / W, (y1 - y0) / H])


def dots(ax, pts):
    ax.plot([p[0] for p in pts], [p[1] for p in pts], "o", ls="none",
            ms=4.2, mfc="black", mec="none", zorder=3)


def style(ax):
    ax.set_xlim(-9.9, 9.9)
    ax.set_ylim(-9.9, 9.9)
    for axis in (ax.xaxis, ax.yaxis):
        axis.set_major_locator(FixedLocator(major_ticks))
        axis.set_minor_locator(MultipleLocator(0.5))
    ax.set_xticklabels(tick_labels, fontsize=21, fontweight="bold")
    ax.set_yticklabels(tick_labels, fontsize=21, fontweight="bold")
    ax.tick_params(which="both", direction="in", top=False, right=False,
                   color="#555555", width=0.9)
    ax.tick_params(which="major", length=14.5)
    ax.tick_params(which="minor", length=7)
    ax.tick_params(axis="x", pad=6)
    ax.tick_params(axis="y", pad=5)
    for s in ax.spines.values():
        s.set_color("#555555")
        s.set_linewidth(1.1)
    ax.add_patch(Rectangle((box[0], box[1]), box[2] - box[0], box[3] - box[1],
                           fill=False, ec="#0000ff", lw=1.6, zorder=5))


core = [(t1, t2) for t2, row in core_rows for t1 in row]

ax_a = axes_px(72.7, 765.0, 77.7, 728.5)
for pts in (band_hi_a, band_lo_a, vline_a, hline_a, scatter_a, core):
    dots(ax_a, pts)
style(ax_a)

ax_b = axes_px(999.3, 1692.3, 77.7, 728.5)
for pts in (vline_b, hline_b, scatter_b, core):
    dots(ax_b, pts)
style(ax_b)


# ---------------------------------------------------------------- texts
def ftext(x, y, s, **kw):
    fig.text(x / W, 1 - y / H, s, **kw)


ftext(398, 61, r"peak/cont. 2, $\mu^{+}\mu^{-}$", ha="center", va="baseline",
      fontsize=17.3, color="#222222")
ftext(1320, 61, "peak/cont. 2, cascade", ha="center", va="baseline",
      fontsize=17.3, color="#222222")
for x in (38, 965):
    ftext(x, 65, r"$t_{\mathbf{2}}$, ns", ha="left", va="baseline",
          fontsize=18.5, fontweight="bold")
for x in (737, 1665):
    ftext(x, 754, r"$t_{\mathbf{1}}$, ns", ha="left", va="baseline",
          fontsize=18.5, fontweight="bold")

ftext(415, 811, r"(a) $\mu^{+}\mu^{-}$ candidates", ha="center", va="baseline",
      fontsize=32.5)
for x, word in [(955, "(b)"), (1036, "Cascade"), (1238, "decay"),
                (1380, "to"), (1432, r"$\mu^{+}\mu^{-}$"), (1564, "through")]:
    ftext(x, 811, word, ha="left", va="baseline", fontsize=32.5)
ftext(955, 872, r"$J/\psi\pi\pi$.", ha="left", va="baseline", fontsize=32.5)

fig.savefig("out.png", dpi=100)
